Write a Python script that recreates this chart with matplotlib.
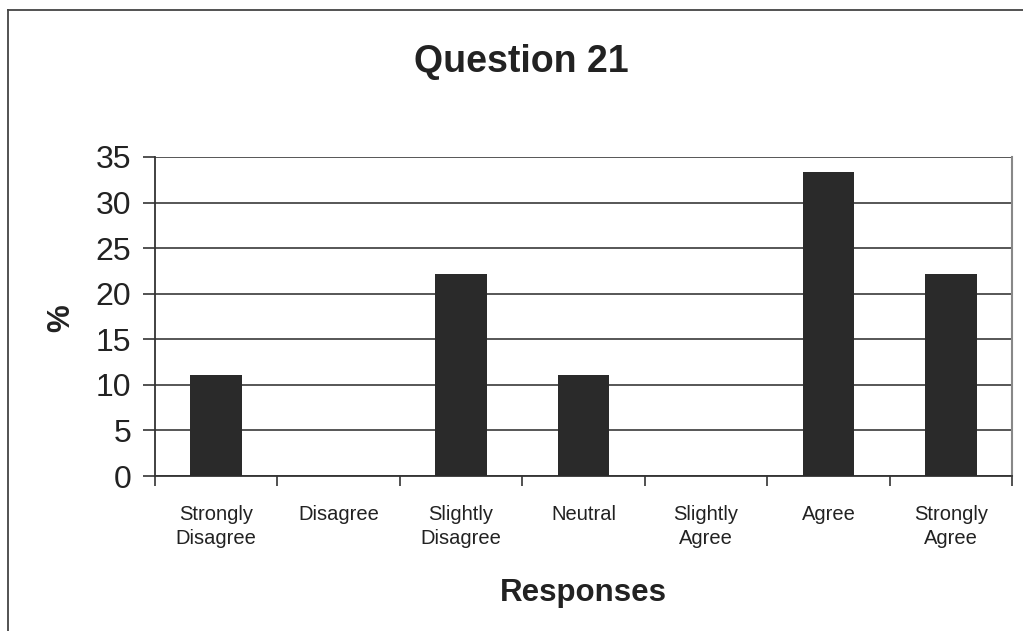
import numpy as np
import matplotlib.pyplot as plt
from matplotlib.lines import Line2D

plt.rcParams["font.family"] = ["Liberation Sans", "DejaVu Sans"]

# Data
categories = ["Strongly\nDisagree", "Disagree", "Slightly\nDisagree", "Neutral",
              "Slightly\nAgree", "Agree", "Strongly\nAgree"]
percent = [11.1, 0, 22.2, 11.1, 0, 33.3, 22.2]
y_ticks = [0, 5, 10, 15, 20, 25, 30, 35]

fig = plt.figure(figsize=(10.23, 6.31), dpi=100)
ax = fig.add_axes([0.1515, 0.2456, 0.9893 - 0.1515, 0.7512 - 0.2456])

x = np.arange(len(categories))
ax.bar(x, percent, width=0.42, color="#2a2a2a", zorder=3)

ax.set_xlim(-0.5, len(categories) - 0.5)
ax.set_ylim(0, 35)
ax.set_yticks(y_ticks)
ax.yaxis.grid(True, color="#3a3a3a", linewidth=1.2, zorder=0)

# category ticks at boundaries, labels centered
ax.set_xticks(np.arange(len(categories) + 1) - 0.5)
ax.set_xticklabels([])
ax.set_xticks(x, minor=True)
ax.set_xticklabels(categories, minor=True, fontsize=14.5, color="#222222",
                   linespacing=1.3)
ax.tick_params(axis="x", which="minor", length=0, pad=21)
ax.tick_params(axis="x", which="major", length=7, width=1.2, color="#333333")
ax.tick_params(axis="y", length=9, width=1.2, color="#333333", labelsize=23,
               pad=8, labelcolor="#222222")

for side in ["left", "bottom"]:
    ax.spines[side].set_color("#333333")
    ax.spines[side].set_linewidth(1.3)
ax.spines["top"].set_visible(False)
ax.spines["right"].set_color("#888888")
ax.spines["right"].set_linewidth(1.5)

fig.text(0.510, 0.902, "Question 21", ha="center", va="center",
         fontsize=27, fontweight="bold", color="#222222")
ax.set_xlabel("Responses", fontsize=22.5, fontweight="bold", color="#222222",
              labelpad=22)
fig.text(0.060, 0.496, "%", ha="center", va="center", rotation=90,
         fontsize=22.5, fontweight="bold", color="#222222")

# outer chart frame (left and top edges visible)
fig.add_artist(Line2D([0.0078, 0.0078], [0.0, 0.984], color="#444444",
                      linewidth=1.3, transform=fig.transFigure))
fig.add_artist(Line2D([0.0078, 1.0], [0.984, 0.984], color="#444444",
                      linewidth=1.3, transform=fig.transFigure))

fig.savefig("out.png", dpi=100)
